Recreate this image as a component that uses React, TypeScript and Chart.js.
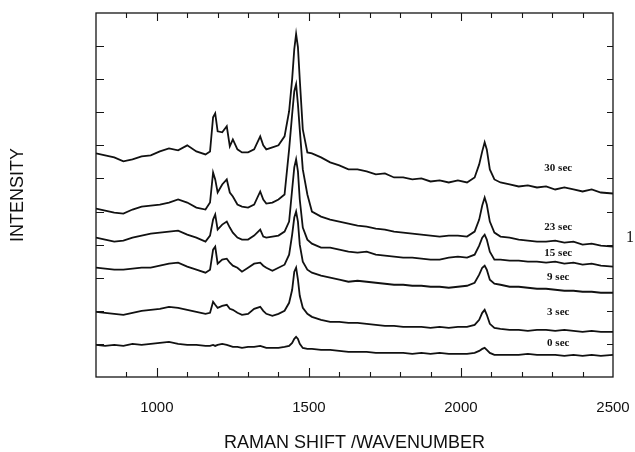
import { useEffect, useRef } from 'react';
import { Chart, registerables } from 'chart.js';

Chart.register(...registerables);

// Raman shift (cm-1) sampling grid shared by all spectra
const wavenumbers = [
  800, 830, 860, 890, 920, 950, 980, 1010, 1040, 1070,
  1100, 1130, 1160, 1175, 1185, 1192, 1200, 1215, 1230, 1240,
  1250, 1265, 1280, 1300, 1320, 1340, 1350, 1360, 1380, 1400,
  1420, 1435, 1445, 1452, 1458, 1464, 1470, 1480, 1495, 1510,
  1540, 1570, 1600, 1630, 1660, 1690, 1720, 1750, 1780, 1810,
  1840, 1870, 1900, 1930, 1960, 1990, 2020, 2045, 2060, 2070,
  2078, 2085, 2095, 2110, 2130, 2160, 2190, 2220, 2250, 2280,
  2310, 2340, 2370, 2400, 2430, 2460, 2500,
];

// Intensities (arbitrary units, traces offset vertically as in the figure)
const sec0 = [
  32, 31, 32, 31, 33, 32, 33, 34, 35, 33,
  32, 32, 31, 31, 32, 31, 32, 33, 32, 31,
  30, 30, 29, 30, 30, 31, 30, 29, 29, 29,
  30, 31, 34, 38, 40, 38, 33, 29, 28, 28,
  27, 27, 26, 25, 25, 25, 24, 24, 24, 24,
  23, 24, 23, 24, 23, 23, 23, 24, 26, 28,
  29, 27, 24, 22, 22, 22, 22, 23, 22, 22,
  22, 21, 22, 21, 22, 21, 22,
];
const sec3 = [
  65, 64, 63, 62, 64, 66, 67, 68, 70, 69,
  67, 65, 63, 64, 75, 72, 69, 71, 72, 68,
  67, 64, 62, 63, 68, 70, 66, 63, 61, 63,
  66, 74, 87, 105, 109, 97, 81, 69, 63, 60,
  57, 55, 55, 54, 54, 53, 52, 51, 51, 50,
  50, 50, 49, 50, 49, 50, 50, 52, 57, 64,
  67, 62, 53, 49, 48, 47, 47, 46, 47, 47,
  46, 47, 46, 45, 46, 45, 45,
];
const sec9 = [
  109, 108, 107, 107, 108, 109, 109, 111, 113, 114,
  110, 107, 104, 107, 127, 130, 113, 117, 118, 114,
  111, 109, 105, 109, 113, 114, 111, 109, 106, 109,
  112, 122, 142, 159, 165, 155, 132, 115, 107, 104,
  101, 99, 97, 95, 96, 95, 94, 93, 92, 92,
  91, 91, 90, 90, 89, 90, 91, 94, 102, 109,
  111, 107, 97, 93, 92, 90, 90, 89, 88, 88,
  87, 86, 86, 85, 85, 84, 84,
];
const sec15 = [
  139, 137, 135, 136, 139, 141, 143, 144, 145, 146,
  142, 139, 135, 141, 157, 162, 147, 152, 155, 149,
  144, 139, 137, 137, 141, 147, 140, 139, 140, 141,
  145, 155, 187, 209, 217, 205, 177, 149, 137, 133,
  129, 129, 127, 125, 124, 125, 122, 121, 120, 119,
  119, 118, 117, 117, 119, 120, 119, 122, 131, 139,
  142, 137, 125, 117, 117, 116, 116, 115, 115, 114,
  115, 113, 114, 112, 113, 111, 110,
];
const sec23 = [
  168, 166, 164, 163, 167, 170, 171, 172, 174, 177,
  174, 169, 167, 174, 204, 197, 184, 192, 197, 184,
  180, 172, 170, 169, 172, 185, 177, 173, 174, 177,
  182, 227, 262, 285, 292, 272, 247, 207, 182, 165,
  160, 157, 155, 153, 151, 150, 148, 147, 145, 144,
  143, 142, 141, 140, 141, 141, 140, 145, 157, 171,
  179, 172, 155, 144, 140, 139, 137, 136, 135, 135,
  136, 134, 135, 132, 133, 131, 130,
];
const sec30 = [
  223, 221, 219, 215, 217, 220, 221, 225, 228, 226,
  231, 225, 222, 225, 259, 263, 245, 244, 250, 230,
  237, 227, 224, 224, 227, 240, 231, 227, 229, 231,
  240, 265, 297, 327, 342, 329, 297, 247, 224, 223,
  219, 214, 211, 207, 207, 205, 202, 203, 199, 199,
  197, 198, 195, 196, 194, 196, 194, 199, 212, 225,
  234, 227, 207, 197, 194, 192, 190, 191, 189, 190,
  187, 189, 187, 185, 187, 184, 183,
];

const seriesNames = ['0 sec', '3 sec', '9 sec', '15 sec', '23 sec', '30 sec'];
const seriesValues = [sec0, sec3, sec9, sec15, sec23, sec30];
// where each trace's label sits (wavenumber, intensity)
const labelWavenumber = 2320;
const labelIntensity = [34, 65, 100, 124, 149, 208];

const xMajorLabels = [1000, 1500, 2000, 2500];

const decorPlugin = {
  id: 'decor',
  afterDatasetsDraw(chart: any) {
    const { ctx, chartArea: a, scales } = chart;
    const x = scales.x;
    const y = scales.y;
    ctx.save();
    ctx.strokeStyle = '#151515';
    ctx.lineWidth = 1.3;
    ctx.strokeRect(a.left, a.top, a.right - a.left, a.bottom - a.top);
    ctx.lineWidth = 1.1;
    ctx.beginPath();
    x.ticks.forEach((t: any) => {
      if (t.value <= x.min || t.value >= x.max) return;
      const px = Math.round(x.getPixelForValue(t.value)) + 0.5;
      const major = xMajorLabels.includes(t.value);
      const lb = major ? 9 : 5;
      const lt = major ? 8 : 5;
      ctx.moveTo(px, a.bottom);
      ctx.lineTo(px, a.bottom - lb);
      ctx.moveTo(px, a.top);
      ctx.lineTo(px, a.top + lt);
    });
    y.ticks.forEach((t: any) => {
      if (t.value <= y.min || t.value >= y.max) return;
      const py = Math.round(y.getPixelForValue(t.value)) + 0.5;
      ctx.moveTo(a.left, py);
      ctx.lineTo(a.left + 8, py);
      ctx.moveTo(a.right, py);
      ctx.lineTo(a.right - 6, py);
    });
    ctx.stroke();

    ctx.fillStyle = '#111';
    ctx.font = 'bold 11px "Liberation Serif", "DejaVu Serif", serif';
    ctx.textAlign = 'center';
    ctx.textBaseline = 'middle';
    seriesNames.forEach((name, i) => {
      ctx.fillText(name, x.getPixelForValue(labelWavenumber), y.getPixelForValue(labelIntensity[i]));
    });

    // stray character at the right margin of the scanned figure
    ctx.font = '16px "Liberation Serif", serif';
    ctx.textAlign = 'left';
    ctx.fillText('1', a.right + 13, y.getPixelForValue(139));
    ctx.restore();
  },
};

export default function App() {
  const ref = useRef<HTMLCanvasElement>(null);

  useEffect(() => {
    const canvas = ref.current;
    if (!canvas) return;
    const chart = new Chart(canvas, {
      type: 'line',
      data: {
        datasets: seriesValues.map((vals, i) => ({
          label: seriesNames[i],
          data: wavenumbers.map((w, j) => ({ x: w, y: vals[j] })),
          borderColor: '#111',
          borderWidth: 1.8,
          pointRadius: 0,
          tension: 0,
          fill: false,
        })),
      },
      options: {
        responsive: false,
        animation: false,
        devicePixelRatio: 1,
        layout: { padding: { left: 0, top: 13, right: 22, bottom: 0 } },
        plugins: { legend: { display: false }, tooltip: { enabled: false } },
        scales: {
          x: {
            type: 'linear',
            min: 800,
            max: 2500,
            grid: { display: false, drawTicks: false },
            border: { display: false },
            ticks: {
              stepSize: 100,
              autoSkip: false,
              maxRotation: 0,
              padding: 22,
              color: '#111',
              font: { family: '"Liberation Sans", Arial, sans-serif', size: 15 },
              callback: (v: any) => (xMajorLabels.includes(Number(v)) ? String(v) : ''),
            },
            title: {
              display: true,
              text: 'RAMAN SHIFT /WAVENUMBER',
              color: '#111',
              font: { family: '"Liberation Sans", Arial, sans-serif', size: 18, lineHeight: 1 },
              padding: { top: 0, bottom: 0 },
            },
            afterFit: (s: any) => {
              s.height = 75;
              s.paddingLeft = 0;
              s.paddingRight = 0;
            },
          },
          y: {
            type: 'linear',
            min: 0,
            max: 363,
            grid: { display: false, drawTicks: false },
            border: { display: false },
            ticks: { display: false, stepSize: 33 },
            title: {
              display: true,
              text: 'INTENSITY',
              color: '#111',
              font: { family: '"Liberation Sans", Arial, sans-serif', size: 18 },
              padding: { top: 7, bottom: 0 },
            },
            afterFit: (s: any) => {
              s.width = 96;
              s.paddingTop = 0;
              s.paddingBottom = 0;
            },
          },
        },
      },
      plugins: [decorPlugin],
    });
    return () => chart.destroy();
  }, []);

  return (
    <div style={{ position: 'fixed', left: 0, top: 0, width: 635, height: 452, background: '#fff' }}>
      <canvas ref={ref} width={635} height={452} style={{ width: 635, height: 452, display: 'block' }} />
    </div>
  );
}
